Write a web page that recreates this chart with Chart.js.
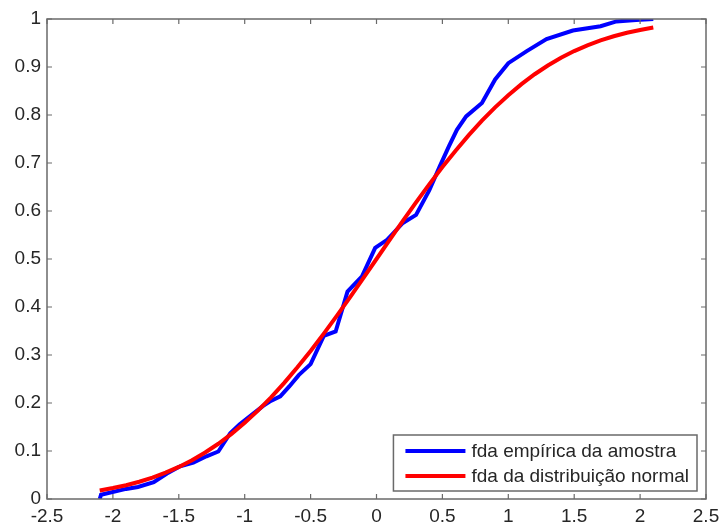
<!DOCTYPE html>
<html>
<head>
<meta charset="utf-8">
<script src="https://cdn.jsdelivr.net/npm/chart.js@4"></script>
<style>
  body { margin: 0; background: #fff; }
  #wrap { width: 719px; height: 526px; position: relative; }
</style>
</head>
<body>
<div id="wrap"><canvas id="cdf-chart"></canvas></div>
<script>
const empX = [-2.10, -2.09, -1.90, -1.81, -1.69, -1.59, -1.49, -1.39, -1.29, -1.20, -1.11, -1.04, -0.93, -0.86, -0.81, -0.73, -0.66, -0.59, -0.50, -0.40, -0.31, -0.22, -0.11, -0.01, 0.08, 0.20, 0.30, 0.40, 0.48, 0.55, 0.61, 0.68, 0.80, 0.90, 1.00, 1.14, 1.29, 1.49, 1.70, 1.82, 1.97, 2.10];
const empY = [0.0, 0.009, 0.021, 0.025, 0.035, 0.053, 0.068, 0.076, 0.089, 0.099, 0.137, 0.155, 0.179, 0.194, 0.203, 0.214, 0.235, 0.258, 0.281, 0.340, 0.349, 0.432, 0.464, 0.523, 0.540, 0.575, 0.592, 0.643, 0.693, 0.735, 0.769, 0.797, 0.825, 0.874, 0.908, 0.933, 0.958, 0.976, 0.985, 0.995, 0.998, 1.0];

// normal distribution cdf
const normX = [-2.1, -2.0, -1.9, -1.8, -1.7, -1.6, -1.5, -1.4, -1.3, -1.2, -1.1, -1.0, -0.9, -0.8, -0.7, -0.6, -0.5, -0.4, -0.3, -0.2, -0.1, 0.0, 0.1, 0.2, 0.3, 0.4, 0.5, 0.6, 0.7, 0.8, 0.9, 1.0, 1.1, 1.2, 1.3, 1.4, 1.5, 1.6, 1.7, 1.8, 1.9, 2.0, 2.1];
const normY = [0.0179, 0.0228, 0.0287, 0.0359, 0.0446, 0.0548, 0.0668, 0.0808, 0.0968, 0.1151, 0.1357, 0.1587, 0.1841, 0.2119, 0.2420, 0.2743, 0.3085, 0.3446, 0.3821, 0.4207, 0.4602, 0.5, 0.5398, 0.5793, 0.6179, 0.6554, 0.6915, 0.7257, 0.7580, 0.7881, 0.8159, 0.8413, 0.8643, 0.8849, 0.9032, 0.9192, 0.9332, 0.9452, 0.9554, 0.9641, 0.9713, 0.9772, 0.9821];

const seriesLabels = ["fda empírica da amostra", "fda da distribuição normal"];
const xTicks = [-2.5, -2, -1.5, -1, -0.5, 0, 0.5, 1, 1.5, 2, 2.5];
const yTicks = [0, 0.1, 0.2, 0.3, 0.4, 0.5, 0.6, 0.7, 0.8, 0.9, 1];

const fontFamily = '"Liberation Sans", Arial, sans-serif';
const axisColor = "#6a6a6a";
const textColor = "#262626";

function toPoints(xs, ys) {
  return xs.map((x, i) => ({ x: x, y: ys[i] }));
}

// matlab style box: border, inside ticks on all sides, legend in lower right
const matlabBox = {
  id: "matlabBox",
  afterDatasetsDraw(chart) {
    const ctx = chart.ctx;
    const a = chart.chartArea;
    const xs = chart.scales.x, ys = chart.scales.y;
    const tick = 5;

    ctx.save();
    ctx.strokeStyle = axisColor;
    ctx.lineWidth = 1.5;
    ctx.strokeRect(a.left, a.top, a.right - a.left, a.bottom - a.top);

    ctx.beginPath();
    xs.ticks.forEach((t) => {
      const px = xs.getPixelForValue(t.value);
      ctx.moveTo(px, a.bottom); ctx.lineTo(px, a.bottom - tick);
      ctx.moveTo(px, a.top); ctx.lineTo(px, a.top + tick);
    });
    ys.ticks.forEach((t) => {
      const py = ys.getPixelForValue(t.value);
      ctx.moveTo(a.left, py); ctx.lineTo(a.left + tick, py);
      ctx.moveTo(a.right, py); ctx.lineTo(a.right - tick, py);
    });
    ctx.lineWidth = 1.2;
    ctx.stroke();

    // legend
    ctx.font = "19px " + fontFamily;
    const textW = Math.max(...chart.data.datasets.map((d) => ctx.measureText(d.label).width));
    const lineLen = 60, padL = 12, gap = 6, padR = 8, rowH = 25;
    const boxW = padL + lineLen + gap + textW + padR;
    const boxH = 56;
    const bx = a.right - 9 - boxW;
    const by = a.bottom - 8 - boxH;

    ctx.fillStyle = "#fff";
    ctx.fillRect(bx, by, boxW, boxH);
    ctx.strokeStyle = axisColor;
    ctx.lineWidth = 1.5;
    ctx.strokeRect(bx, by, boxW, boxH);

    chart.data.datasets.forEach((d, i) => {
      const cy = by + 16 + i * rowH;
      ctx.strokeStyle = d.borderColor;
      ctx.lineWidth = 4;
      ctx.beginPath();
      ctx.moveTo(bx + padL, cy);
      ctx.lineTo(bx + padL + lineLen, cy);
      ctx.stroke();
      ctx.fillStyle = textColor;
      ctx.textBaseline = "middle";
      ctx.textAlign = "left";
      ctx.fillText(d.label, bx + padL + lineLen + gap, cy + 1);
    });
    ctx.restore();
  },
};

const ctx = document.getElementById("cdf-chart").getContext("2d");
const cdfChart = new Chart(ctx, {
  type: "line",
  data: {
    datasets: [
      {
        label: seriesLabels[0],
        data: toPoints(empX, empY),
        borderColor: "#0000ff",
        borderWidth: 4,
        pointRadius: 0,
        tension: 0,
        order: 1,
      },
      {
        label: seriesLabels[1],
        data: toPoints(normX, normY),
        borderColor: "#ff0000",
        borderWidth: 4,
        pointRadius: 0,
        tension: 0,
        order: 0,
      },
    ],
  },
  options: {
    responsive: true,
    maintainAspectRatio: false,
    animation: false,
    layout: { padding: { top: 19, right: 13, left: 0, bottom: 0 } },
    plugins: {
      legend: { display: false },
      tooltip: { enabled: false },
    },
    scales: {
      x: {
        type: "linear",
        min: -2.5,
        max: 2.5,
        afterBuildTicks: (scale) => { scale.ticks = xTicks.map((v) => ({ value: v })); },
        afterFit: (scale) => {
          scale.height = 27;
          scale.paddingLeft = 0;
          scale.paddingRight = 0;
        },
        grid: { display: false, drawTicks: false },
        border: { display: false },
        ticks: {
          padding: 6,
          maxRotation: 0,
          autoSkip: false,
          color: textColor,
          font: { family: fontFamily, size: 19 },
          callback: (v) => String(v),
        },
      },
      y: {
        min: 0,
        max: 1,
        afterBuildTicks: (scale) => { scale.ticks = yTicks.map((v) => ({ value: v })); },
        afterFit: (scale) => {
          scale.width = 47;
          scale.paddingTop = 0;
          scale.paddingBottom = 0;
        },
        grid: { display: false, drawTicks: false },
        border: { display: false },
        ticks: {
          padding: 6,
          autoSkip: false,
          color: textColor,
          font: { family: fontFamily, size: 19 },
          callback: (v) => String(v),
        },
      },
    },
  },
  plugins: [matlabBox],
});
</script>
</body>
</html>
